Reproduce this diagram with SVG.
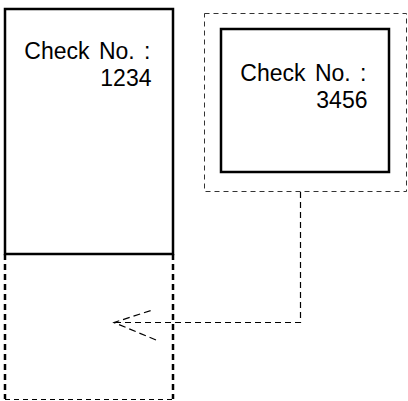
<svg xmlns="http://www.w3.org/2000/svg" width="408" height="401" viewBox="0 0 408 401">
<style>
.box{fill:#fff;stroke:#000;stroke-width:2.5}
.frame{fill:none;stroke:#333;stroke-width:1;stroke-dasharray:5,4}
.ext-side{fill:none;stroke:#000;stroke-width:2.5;stroke-dasharray:6,4}
.ext-bottom{fill:none;stroke:#000;stroke-width:1.2;stroke-dasharray:5,4}
.lbl{font-family:"Liberation Sans",Arial,sans-serif;font-size:23px;fill:#000;text-anchor:end;word-spacing:3px}
.conn{fill:none;stroke:#000;stroke-width:1.2;stroke-dasharray:6,4}
</style>
<defs>
<marker id="openArrow" markerUnits="userSpaceOnUse" viewBox="-46 -20 48 38" refX="0" refY="0" markerWidth="48" markerHeight="38" orient="auto">
<path d="M-42,-17.5 L0,0 L-37,12" fill="none" stroke="#000" stroke-width="1.2" stroke-dasharray="7,4"/>
</marker>
</defs>
<g id="check-1234">
<path class="ext-side" d="M5,254 V399"/>
<path class="ext-side" d="M173,254 V399"/>
<path class="ext-bottom" d="M5,399.5 H173"/>
<rect class="box" x="5" y="9" width="168" height="245"/>
<text class="lbl" x="150.5" y="59">Check No. :</text>
<text class="lbl" x="151.5" y="86">1234</text>
</g>
<g id="check-3456">
<rect class="frame" x="204.5" y="13.5" width="202" height="178"/>
<rect class="box" x="221" y="29" width="168" height="143"/>
<text class="lbl" x="366.5" y="81">Check No. :</text>
<text class="lbl" x="367.5" y="108">3456</text>
</g>
<g id="connectors">
<path class="conn" d="M300.5,192 V322.5 H114" marker-end="url(#openArrow)"/>
</g>
</svg>
